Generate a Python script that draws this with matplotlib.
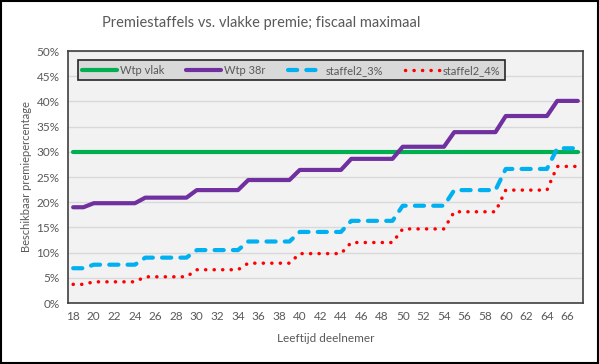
import matplotlib
matplotlib.use("Agg")
import matplotlib.pyplot as plt
from matplotlib.patches import Rectangle
from matplotlib.ticker import FuncFormatter

plt.rcParams['font.family'] = ['Lato', 'DejaVu Sans']

ages = list(range(18, 68))
wtp_vlak = [30.0] * 50
# step levels per age band
bands = [(18, 19), (20, 24), (25, 29), (30, 34), (35, 39), (40, 44),
         (45, 49), (50, 54), (55, 59), (60, 64), (65, 67)]
wtp38r_levels = [19.0, 19.8, 20.9, 22.4, 24.4, 26.4, 28.6, 31.0, 33.9, 37.1, 40.1]
staffel3_levels = [6.9, 7.6, 9.0, 10.5, 12.2, 14.1, 16.3, 19.3, 22.4, 26.6, 30.7]
staffel4_levels = [3.7, 4.2, 5.2, 6.6, 7.9, 9.8, 12.0, 14.7, 18.1, 22.4, 27.1]

def expand(levels):
    out = []
    for (a, b), v in zip(bands, levels):
        out += [v] * (b - a + 1)
    return out

wtp38r = expand(wtp38r_levels)
staffel3 = expand(staffel3_levels)
staffel4 = expand(staffel4_levels)

fig = plt.figure(figsize=(5.99, 3.64), dpi=100)
ax = fig.add_axes([68/599, 1-303/364, (583-68)/599, (303-51)/364])
ax.set_facecolor('#f2f2f2')

x = list(range(len(ages)))
ax.plot(x, [v/100 for v in wtp_vlak], color='#00b050', lw=3, solid_capstyle='round', label='Wtp vlak', zorder=3)
ax.plot(x, [v/100 for v in wtp38r], color='#7030a0', lw=3, solid_capstyle='round', label='Wtp 38r', zorder=3)
ax.plot(x, [v/100 for v in staffel3], color='#00b0f0', lw=3, linestyle=(0, (2.2, 2.2)), dash_capstyle='round', label='staffel2_3%', zorder=3)
ax.plot(x, [v/100 for v in staffel4], color='#ff0000', lw=2.5, linestyle=(0, (0.05, 2.4)), dash_capstyle='round', label='staffel2_4%', zorder=3)

ax.set_xlim(-0.5, len(ages) - 0.5)
ax.set_ylim(0, 0.5)
ax.set_yticks([i * 0.05 for i in range(11)])
ax.yaxis.set_major_formatter(FuncFormatter(lambda v, p: f"{round(v*100)}%"))
ax.set_xticks(x[::2])
ax.set_xticklabels([str(a) for a in ages[::2]])
ax.tick_params(axis='both', length=0, labelsize=8.5, colors='#595959', pad=6)
ax.grid(axis='y', color='#d9d9d9', lw=1)
ax.set_axisbelow(True)
for s in ax.spines.values():
    s.set_color('#404040')
    s.set_linewidth(1.2)

ax.set_xlabel('Leeftijd deelnemer', fontsize=8.5, color='#595959', labelpad=8)
ax.set_ylabel('Beschikbaar premiepercentage', fontsize=8, color='#595959', labelpad=3)

leg = ax.legend(loc='upper left', bbox_to_anchor=(0.008, 0.985), ncol=4, frameon=True,
                fontsize=8, handlelength=3.1, handletextpad=0.3, columnspacing=2.0, borderpad=0.4,
                fancybox=False, edgecolor='#262626', facecolor='#d9d9d9', framealpha=1)
for t in leg.get_texts():
    t.set_color('#595959')
leg.get_frame().set_linewidth(1.2)

fig.text(261/599, 1-23/364, 'Premiestaffels vs. vlakke premie; fiscaal maximaal',
         ha='center', va='center', fontsize=10.5, color='#595959')

fig.patches.append(Rectangle((0.002, 0.003), 0.996, 0.994, transform=fig.transFigure,
                             fill=False, edgecolor='black', lw=1.5))

fig.savefig('out.png', dpi=100)
